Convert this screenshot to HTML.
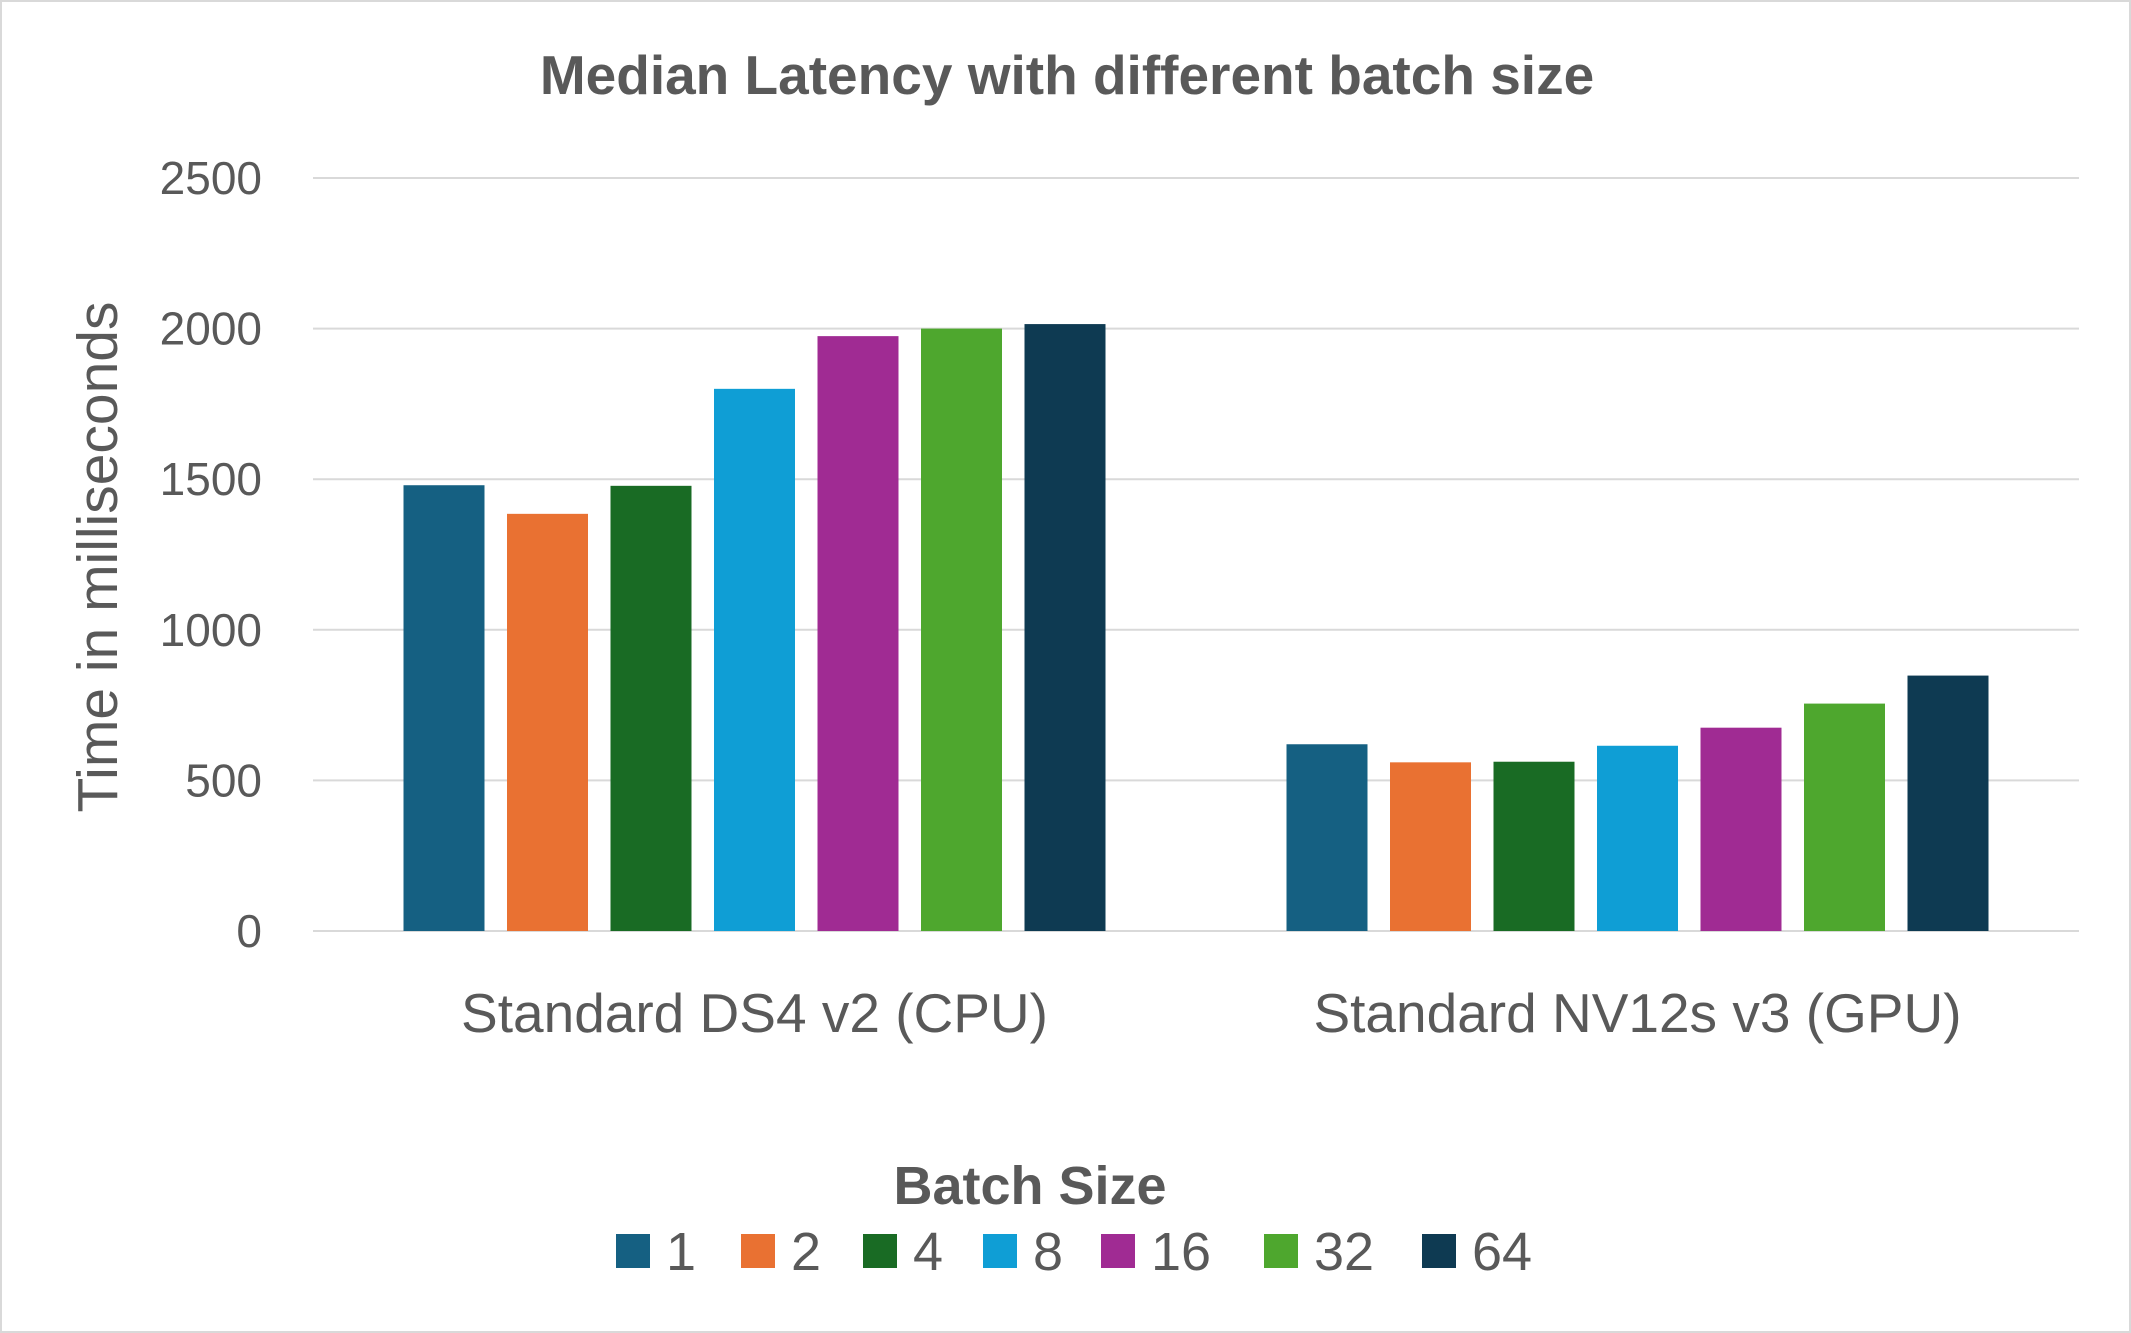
<!DOCTYPE html>
<html><head><meta charset="utf-8"><style>
html,body{margin:0;padding:0;background:#fff}
svg{display:block;font-family:"Liberation Sans",sans-serif}
</style></head><body>
<svg id="chart" width="2131" height="1333" viewBox="0 0 2131 1333">
<rect x="1" y="1" width="2129" height="1331" fill="#fff" stroke="#d9d9d9" stroke-width="2"/>
<text x="1067" y="94" text-anchor="middle" font-size="55" font-weight="bold" fill="#595959">Median Latency with different batch size</text>
<text transform="translate(117,557) rotate(-90)" text-anchor="middle" font-size="57" fill="#595959">Time in milliseconds</text>
<g id="grid"></g><g id="bars"></g><g id="xlabels"></g><g id="legend"></g>
<text x="1030" y="1204" text-anchor="middle" font-size="54" font-weight="bold" fill="#595959">Batch Size</text>
</svg>
<script>
const categories=["Standard DS4 v2 (CPU)","Standard NV12s v3 (GPU)"];
const seriesNames=["1","2","4","8","16","32","64"];
const colors=["#156082","#e97132","#196b24","#0f9ed5","#a02b93","#4ea72e","#0e3a52"];
const cpuValues=[1480,1385,1478,1800,1975,2000,2015];
const gpuValues=[620,560,562,615,675,755,848];
const yTicks=[0,500,1000,1500,2000,2500];
const NS="http://www.w3.org/2000/svg";
const L=313,R=2079,Y0=931,YT=178,YMAX=2500;
const y=v=>Y0-(v/YMAX)*(Y0-YT);
const band=(R-L)/categories.length;
const step=103.5,bw=81;
function mk(t,a,p){const e=document.createElementNS(NS,t);for(const k in a)e.setAttribute(k,a[k]);p.appendChild(e);return e;}
const grid=document.getElementById('grid');
yTicks.forEach(t=>{
 const l=mk('line',{x1:L,x2:R,y1:y(t),y2:y(t),stroke:'#d9d9d9','stroke-width':2},grid);
 
 
 const tx=mk('text',{x:262,y:y(t)+16,'text-anchor':'end','font-size':46,fill:'#595959'},grid);
 tx.textContent=t;
 
 
});
const bars=document.getElementById('bars');
const data=[cpuValues,gpuValues];
categories.forEach((c,ci)=>{
 const cx=L+band*(ci+0.5);
 data[ci].forEach((v,si)=>{
  const x=cx+(si-3)*step-bw/2;
  const r=mk('rect',{x:x,y:y(v),width:bw,height:Y0-y(v),fill:colors[si]},bars);
  
  
 });
 const t=mk('text',{x:cx,y:1032,'text-anchor':'middle','font-size':55,fill:'#595959'},document.getElementById('xlabels'));
 t.textContent=c;
 
 
});
const lg=document.getElementById('legend');
const lx=[616,741,863,983,1101,1264,1422];
seriesNames.forEach((n,i)=>{
 const g=mk('g',{},lg);
 
 
 mk('rect',{x:lx[i],y:1234,width:34,height:34,fill:colors[i]},g);
 const t=mk('text',{x:lx[i]+50,y:1270,'font-size':54,fill:'#595959'},g);
 t.textContent=n;
});
</script>
</body></html>
